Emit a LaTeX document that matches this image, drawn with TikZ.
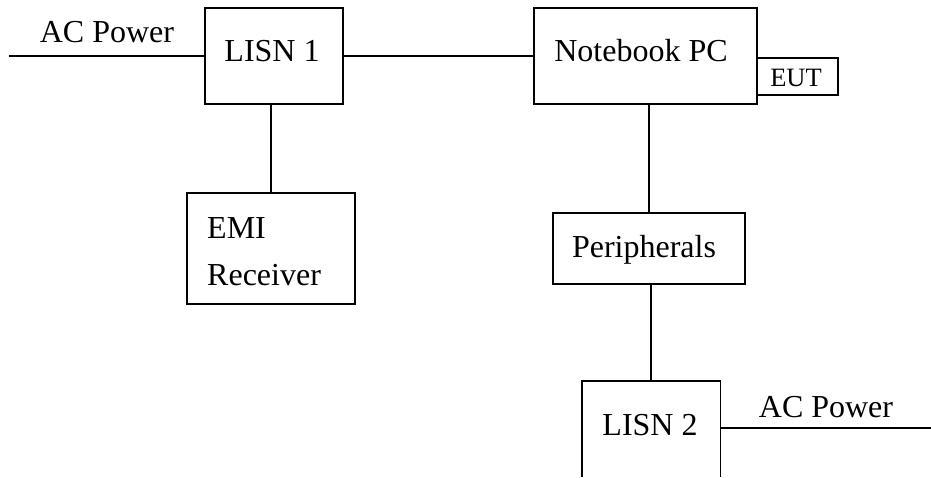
\documentclass[tikz,border=0pt]{standalone}
\usepackage{fontspec}
\setmainfont{Liberation Serif}
\begin{document}
\begin{tikzpicture}[x=1pt,y=-1pt,
  wire/.style={line width=1.6pt,line cap=rect},
  blockbox/.style={draw,line width=1.6pt,inner sep=0pt,anchor=north west},
  lbl/.style={inner sep=0pt,anchor=base,font=\fontsize{32}{38}\selectfont},
  smalllbl/.style={inner sep=0pt,anchor=base,font=\fontsize{26.5}{32}\selectfont}]
\useasboundingbox (0,0) rectangle (931,477);

% boxes
\node[blockbox,minimum width=138pt,minimum height=96pt] (lisn1) at (204,7) {};
\node[blockbox,minimum width=223pt,minimum height=96pt] (nb) at (533,7) {};
\node[blockbox,minimum width=81pt,minimum height=37pt] (eut) at (756,57) {};
\node[blockbox,minimum width=168pt,minimum height=111pt] (emi) at (186,192) {};
\node[blockbox,minimum width=192pt,minimum height=71pt] (periph) at (552,212) {};
% LISN 2 runs off the lower edge: three sides only
\node[inner sep=0pt,anchor=north west,minimum width=138pt,minimum height=96pt] (lisn2) at (582,381) {};
\draw[line width=1.6pt] (lisn2.south west) -- (lisn2.north west) -- (lisn2.north east) -- (lisn2.south east);

% texts
\node[lbl] (tl1) at (272,61) {LISN 1};
\node[lbl] (tnb) at (641,61) {Notebook PC};
\node[smalllbl] (teut) at (796,86) {EUT};
\node[lbl,anchor=base west] (temi) at (207,238) {EMI};
\node[lbl,anchor=base west] (trec) at (207,285) {Receiver};
\node[lbl] (tper) at (644,257) {Peripherals};
\node[lbl] (tl2) at (650,435) {LISN 2};
\node[lbl] (tac1) at (107,42) {AC Power};
\node[lbl] (tac2) at (826,417) {AC Power};

% connections
\coordinate (acin) at (10,56);
\coordinate (acout) at (931,428);
\draw[wire] (acin) -- (acin -| lisn1.west);
\draw[wire] (lisn1.east |- acin) -- (nb.west |- acin);
\draw[wire] (emi.north) -- (emi.north |- lisn1.south);
\draw[wire] (periph.north) -- (periph.north |- nb.south);
\draw[wire] (lisn2.north) -- (lisn2.north |- periph.south);
\draw[wire] (lisn2.east |- acout) -- (acout);
\end{tikzpicture}
\end{document}
